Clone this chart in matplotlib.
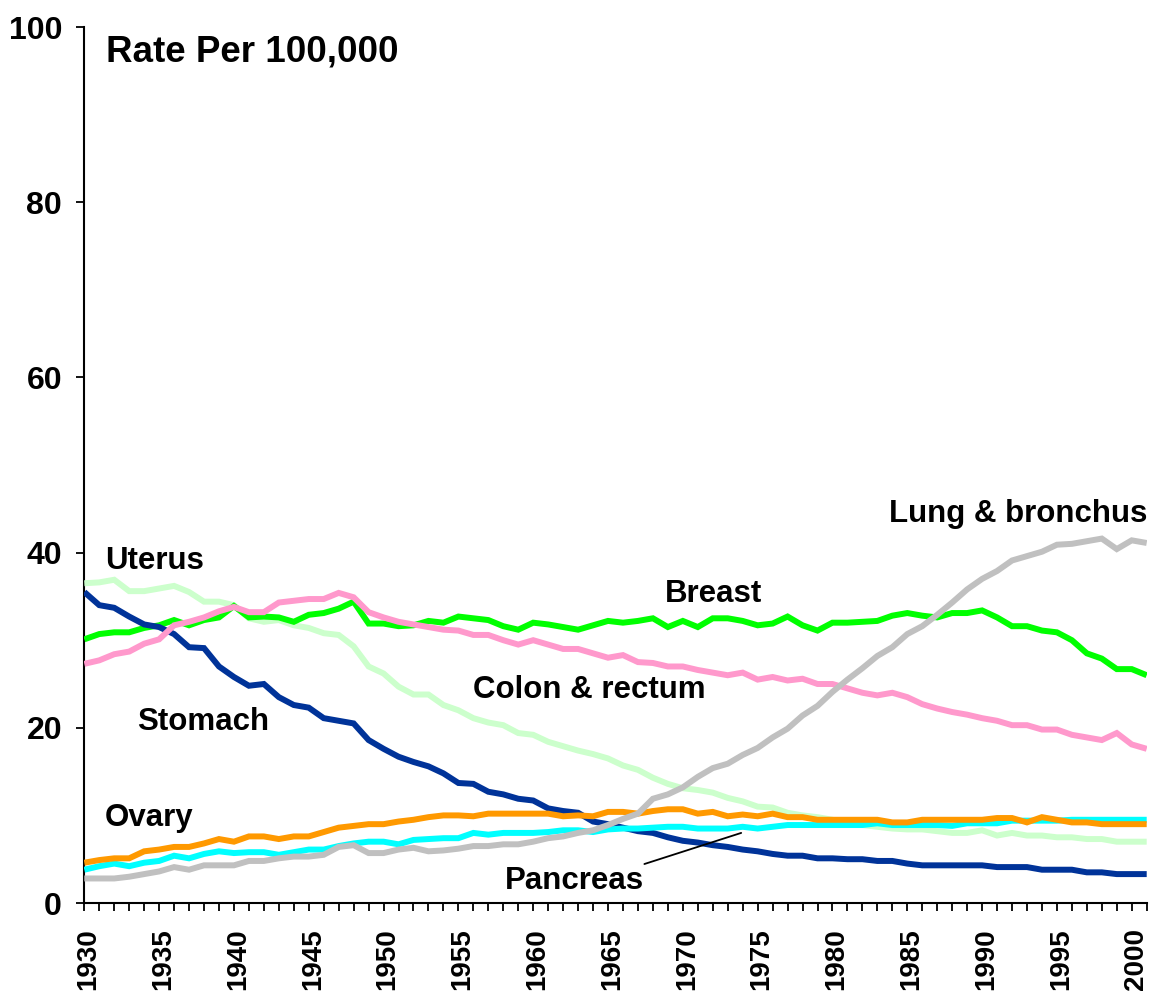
import matplotlib
matplotlib.use("Agg")
import matplotlib.pyplot as plt
import matplotlib.transforms as mtransforms
import numpy as np

years = list(range(1930, 2002))

lung = [2.8, 2.8, 2.8, 3.0, 3.3, 3.6, 4.1, 3.8, 4.3, 4.3, 4.3, 4.8, 4.8, 5.1, 5.3, 5.3, 5.5, 6.4, 6.6, 5.7,
        5.7, 6.1, 6.3, 5.9, 6.0, 6.2, 6.5, 6.5, 6.7, 6.7, 7.0, 7.4, 7.6, 8.0, 8.3, 8.9, 9.6, 10.2, 11.9, 12.4,
        13.2, 14.4, 15.4, 15.9, 16.9, 17.7, 18.9, 19.9, 21.4, 22.5, 24.1, 25.5, 26.8, 28.2, 29.2, 30.7, 31.6, 32.9, 34.3, 35.8,
        37.0, 37.9, 39.1, 39.6, 40.1, 40.9, 41.0, 41.3, 41.6, 40.4, 41.4, 41.1]

breast = [30.1, 30.7, 30.9, 30.9, 31.4, 31.7, 32.3, 31.7, 32.3, 32.6, 33.9, 32.6, 32.7, 32.6, 32.1, 32.9, 33.1, 33.6, 34.4, 31.9,
          31.9, 31.6, 31.7, 32.2, 32.0, 32.7, 32.5, 32.3, 31.6, 31.2, 32.0, 31.8, 31.5, 31.2, 31.7, 32.2, 32.0, 32.2, 32.5, 31.5,
          32.2, 31.5, 32.5, 32.5, 32.2, 31.7, 31.9, 32.7, 31.7, 31.1, 32.0, 32.0, 32.1, 32.2, 32.8, 33.1, 32.8, 32.6, 33.1, 33.1,
          33.4, 32.6, 31.6, 31.6, 31.1, 30.9, 30.0, 28.5, 27.9, 26.7, 26.7, 26.0]

colon = [27.3, 27.7, 28.4, 28.7, 29.6, 30.1, 31.7, 32.1, 32.6, 33.3, 33.8, 33.2, 33.2, 34.3, 34.5, 34.7, 34.7, 35.4, 34.9, 33.2,
         32.6, 32.1, 31.8, 31.5, 31.2, 31.1, 30.6, 30.6, 30.0, 29.5, 30.0, 29.5, 29.0, 29.0, 28.5, 28.0, 28.3, 27.5, 27.4, 27.0,
         27.0, 26.6, 26.3, 26.0, 26.3, 25.5, 25.8, 25.4, 25.6, 25.0, 25.0, 24.5, 24.0, 23.7, 24.0, 23.5, 22.7, 22.2, 21.8, 21.5,
         21.1, 20.8, 20.3, 20.3, 19.8, 19.8, 19.2, 18.9, 18.6, 19.4, 18.1, 17.6]

uterus = [36.5, 36.6, 36.9, 35.6, 35.6, 35.9, 36.2, 35.5, 34.4, 34.4, 34.0, 32.5, 32.1, 32.3, 31.7, 31.4, 30.8, 30.6, 29.3, 27.0,
          26.2, 24.7, 23.8, 23.8, 22.6, 22.0, 21.1, 20.6, 20.3, 19.4, 19.2, 18.4, 17.9, 17.4, 17.0, 16.5, 15.7, 15.2, 14.3, 13.6,
          13.1, 12.9, 12.6, 12.0, 11.6, 11.0, 10.9, 10.3, 10.0, 9.8, 9.5, 9.0, 8.9, 8.7, 8.5, 8.4, 8.4, 8.2, 8.0, 8.0,
          8.3, 7.7, 8.0, 7.7, 7.7, 7.5, 7.5, 7.3, 7.3, 7.0, 7.0, 7.0]

stomach = [35.5, 34.0, 33.7, 32.7, 31.8, 31.5, 30.7, 29.2, 29.1, 27.0, 25.8, 24.8, 25.0, 23.5, 22.6, 22.3, 21.1, 20.8, 20.5, 18.6,
           17.6, 16.7, 16.1, 15.6, 14.8, 13.7, 13.6, 12.7, 12.4, 11.9, 11.7, 10.8, 10.5, 10.3, 9.3, 9.0, 8.6, 8.2, 8.0, 7.5,
           7.1, 6.9, 6.6, 6.4, 6.1, 5.9, 5.6, 5.4, 5.4, 5.1, 5.1, 5.0, 5.0, 4.8, 4.8, 4.5, 4.3, 4.3, 4.3, 4.3,
           4.3, 4.1, 4.1, 4.1, 3.8, 3.8, 3.8, 3.5, 3.5, 3.3, 3.3, 3.3]

ovary = [4.6, 4.9, 5.1, 5.1, 5.9, 6.1, 6.4, 6.4, 6.8, 7.3, 7.0, 7.6, 7.6, 7.3, 7.6, 7.6, 8.1, 8.6, 8.8, 9.0,
         9.0, 9.3, 9.5, 9.8, 10.0, 10.0, 9.9, 10.2, 10.2, 10.2, 10.2, 10.2, 9.9, 10.0, 9.9, 10.4, 10.4, 10.2, 10.5, 10.7,
         10.7, 10.2, 10.4, 9.9, 10.1, 9.9, 10.2, 9.8, 9.8, 9.5, 9.5, 9.5, 9.5, 9.5, 9.2, 9.2, 9.5, 9.5, 9.5, 9.5,
         9.5, 9.7, 9.7, 9.2, 9.8, 9.5, 9.2, 9.2, 9.0, 9.0, 9.0, 9.0]

pancreas = [3.8, 4.2, 4.5, 4.2, 4.6, 4.8, 5.4, 5.1, 5.6, 5.9, 5.7, 5.8, 5.8, 5.5, 5.8, 6.1, 6.1, 6.5, 6.8, 7.0,
            7.0, 6.7, 7.2, 7.3, 7.4, 7.4, 8.0, 7.8, 8.0, 8.0, 8.0, 8.1, 8.3, 8.3, 8.1, 8.4, 8.5, 8.5, 8.6, 8.7,
            8.7, 8.5, 8.5, 8.5, 8.7, 8.5, 8.7, 8.9, 8.9, 8.9, 8.9, 8.9, 8.9, 9.1, 8.9, 8.9, 8.9, 8.9, 8.8, 9.1,
            9.1, 9.1, 9.4, 9.4, 9.4, 9.4, 9.5, 9.5, 9.5, 9.5, 9.5, 9.5]

series = [
    ("Uterus", uterus, "#CCFFCC"),
    ("Breast", breast, "#00FF00"),
    ("Stomach", stomach, "#003399"),
    ("Colon & rectum", colon, "#FF99CC"),
    ("Pancreas", pancreas, "#00FFFF"),
    ("Ovary", ovary, "#FF9900"),
    ("Lung & bronchus", lung, "#C0C0C0"),
]

label_years = list(range(1930, 2001, 5))
y_ticks = [0, 20, 40, 60, 80, 100]

fig = plt.figure(figsize=(11.58, 9.96), dpi=100)
ax = fig.add_axes([84.3 / 1158, 93 / 996, (1146.7 - 84.3) / 1158, (903 - 27) / 996])

for name, vals, col in series:
    ax.plot(years, vals, color=col, lw=4.3, solid_joinstyle="miter", solid_capstyle="butt", zorder=3)

ax.set_xlim(1930, 2001)
ax.set_ylim(0, 100)

for s in ["top", "right"]:
    ax.spines[s].set_visible(False)
for s in ["left", "bottom"]:
    ax.spines[s].set_linewidth(1.5)
    ax.spines[s].set_color("black")

ax.set_xticks(years)
ax.set_xticklabels([str(y) if y in label_years else "" for y in years],
                   rotation=90, fontsize=20, fontweight="bold", family="Liberation Sans")
ax.tick_params(axis="x", direction="out", length=6, width=1.3, pad=12)
offset = mtransforms.ScaledTranslation(4 / 100, 0, fig.dpi_scale_trans)
for lbl in ax.get_xticklabels():
    lbl.set_transform(lbl.get_transform() + offset)

ax.set_yticks(y_ticks)
ax.set_yticklabels([str(v) for v in y_ticks], fontsize=23, fontweight="bold",
                   family=["Liberation Sans Narrow", "Liberation Sans"])
ax.tick_params(axis="y", direction="out", length=6, width=1.3, pad=10)

txt = dict(fontsize=22.5, fontweight="bold", family="Liberation Sans", color="black",
           ha="left", va="baseline", zorder=5)
ax.text(1931.45, 96.06, "Rate Per 100,000", fontsize=26.5, fontweight="bold",
        family="Liberation Sans", ha="left", va="baseline")
ax.text(1931.38, 38.1, "Uterus", **txt)
ax.text(1933.54, 19.74, "Stomach", **txt)
ax.text(1931.38, 8.78, "Ovary", **txt)
ax.text(1968.82, 34.34, "Breast", **txt)
ax.text(1956.0, 23.39, "Colon & rectum", **txt)
ax.text(1983.79, 43.47, "Lung & bronchus", **txt)
ax.text(1958.12, 1.6, "Pancreas", **txt)
ax.annotate("", xy=(1973.9, 8.0), xytext=(1967.43, 4.45),
            arrowprops=dict(arrowstyle="-", color="black", lw=1.3, shrinkA=0, shrinkB=0), zorder=6)

fig.savefig("out.png", dpi=100)
